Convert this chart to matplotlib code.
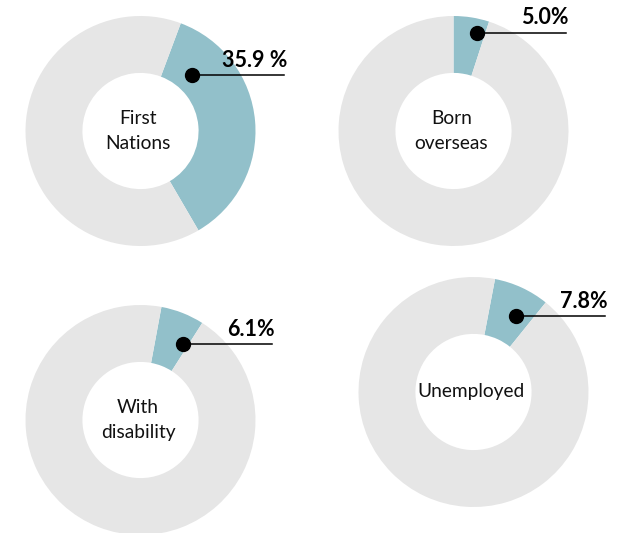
import numpy as np
import matplotlib
matplotlib.use('Agg')
import matplotlib.pyplot as plt

plt.rcParams['font.family'] = ['Lato', 'DejaVu Sans']

# data
groups = ['First\nNations', 'Born\noverseas', 'With\ndisability', 'Unemployed']
shares = [35.9, 5.0, 6.1, 7.8]
share_labels = ['35.9 %', '5.0%', '6.1%', '7.8%']

blue = '#92c0ca'
grey = '#e6e6e6'

# layout: donut centres in pixels, start angle (clockwise from top),
# dot angle / radius and the end of the leader line (data units)
W, H = 627, 533
R = 115
centres = [(140.5, 131), (453.5, 131), (140.5, 420), (473.5, 392)]
starts = [20.5, 0, 10.5, 10.8]
dot_ang = [43, 13.4, 29, 29]
dot_rad = [0.66, 0.88, 0.755, 0.755]
line_end = [1.25, 0.98, 1.14, 1.146]

fig = plt.figure(figsize=(W / 100, H / 100), dpi=100)

for i in range(4):
    cx, cy = centres[i]
    ax = fig.add_axes([(cx - R) / W, (H - cy - R) / H, 2 * R / W, 2 * R / H])
    ax.pie([shares[i], 100 - shares[i]], colors=[blue, grey],
           startangle=90 - starts[i], counterclock=False, radius=1,
           wedgeprops=dict(width=0.495, linewidth=0))
    ax.set_xlim(-1, 1)
    ax.set_ylim(-1, 1)
    ax.set_aspect('equal')
    ax.axis('off')

    ax.text(-0.02, 0.0, groups[i], ha='center', va='center', fontsize=13.8,
            linespacing=1.55, color='#111111')

    a = np.radians(dot_ang[i])
    dx = dot_rad[i] * np.sin(a)
    dy = dot_rad[i] * np.cos(a)
    ax.plot([dx, line_end[i]], [dy, dy], color='black', lw=1.1,
            clip_on=False, zorder=3)
    ax.plot(dx, dy, 'o', color='black', markersize=10, clip_on=False, zorder=4)
    ax.annotate(share_labels[i], xy=(line_end[i], dy), xytext=(2, 3),
                textcoords='offset points', ha='right', va='bottom',
                fontsize=15.5, fontweight='bold', annotation_clip=False)

fig.savefig('out.png', dpi=100)
